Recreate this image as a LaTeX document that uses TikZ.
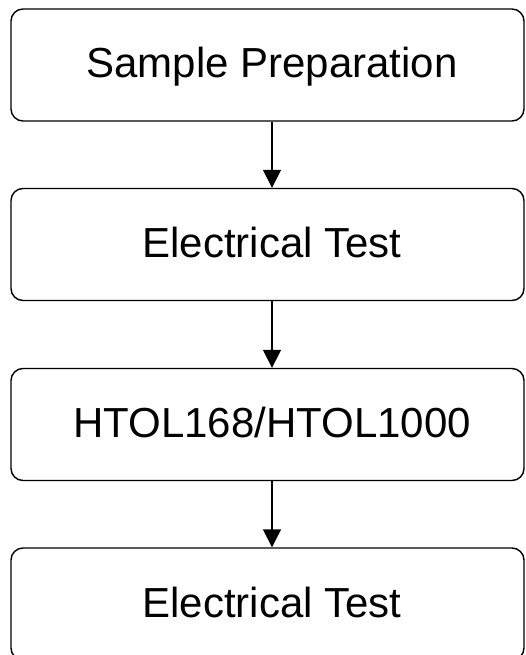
\documentclass[tikz,border=0pt]{standalone}
\usepackage{fontspec}
\setmainfont{Liberation Sans}
\usetikzlibrary{arrows.meta}
\begin{document}
\begin{tikzpicture}[x=1pt,y=-1pt,
  stepbox/.style={draw=black,line width=1.4pt,rounded corners=12pt,minimum width=513pt,minimum height=112pt,inner sep=0pt},
  steplabel/.style={anchor=base,inner sep=0pt,font=\fontsize{42}{48}\selectfont},
  flow/.style={line width=1.8pt,-{Triangle[width=18pt,length=18pt]}}]
\useasboundingbox (0,0) rectangle (525,655);
\node[stepbox] (a) at (267.5,65) {};
\node[stepbox] (b) at (267.5,244.5) {};
\node[stepbox] (c) at (267.5,424.5) {};
\node[stepbox] (d) at (267.5,604) {};
\node[steplabel] (ta) at (272,78) {Sample Preparation};
\node[steplabel] (tb) at (272,257.5) {Electrical Test};
\node[steplabel] (tc) at (272,437.5) {HTOL168/HTOL1000};
\node[steplabel] (td) at (272,617) {Electrical Test};
\draw[flow] (a.south -| 272,0) -- (b.north -| 272,0);
\draw[flow] (b.south -| 272,0) -- (c.north -| 272,0);
\draw[flow] (c.south -| 272,0) -- (d.north -| 272,0);
\end{tikzpicture}
\end{document}
